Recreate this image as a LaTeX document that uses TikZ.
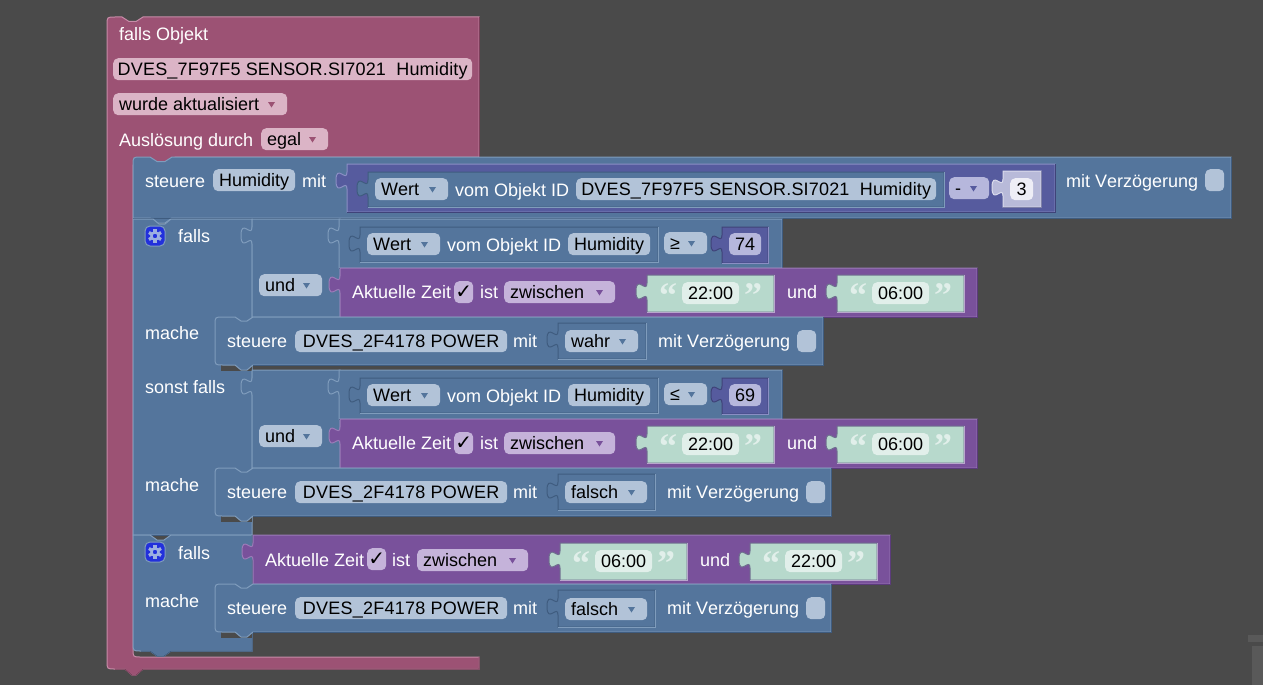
\documentclass[tikz,border=0pt]{standalone}
\usepackage{fontspec}
\setmainfont[Kerning=Off]{Liberation Sans}
\newfontfamily\symfont{DejaVu Sans}
\newfontfamily\quotefont{Liberation Serif}
\newcommand\wider[2]{{\addfontfeature{LetterSpace=#1}#2}}
\definecolor{bgc}{HTML}{4A4A4A}
\definecolor{scrollc}{HTML}{595959}
\definecolor{blockP}{HTML}{9C5274}\definecolor{blockPl}{HTML}{C78CA8}\definecolor{blockPd}{HTML}{7C3F5B}
\definecolor{blockB}{HTML}{54759C}\definecolor{blockBl}{HTML}{7F9CBC}\definecolor{blockBd}{HTML}{3F5C7F}
\definecolor{blockV}{HTML}{79519B}\definecolor{blockVl}{HTML}{9B7BB8}\definecolor{blockVd}{HTML}{5C3B7C}
\definecolor{blockI}{HTML}{565B9E}\definecolor{blockIl}{HTML}{8A8EC4}\definecolor{blockId}{HTML}{3F4379}
\definecolor{blockT}{HTML}{B7D9CC}\definecolor{blockTl}{HTML}{B8A6CC}\definecolor{blockTd}{HTML}{6F6F8F}
\definecolor{blockL}{HTML}{B8BAD9}\definecolor{blockLl}{HTML}{DADBEC}\definecolor{blockLd}{HTML}{7F81A8}
\definecolor{fP}{HTML}{DBB4C6}\definecolor{aP}{HTML}{9C5274}
\definecolor{fB}{HTML}{B2C3D8}\definecolor{aB}{HTML}{54759C}
\definecolor{fV}{HTML}{C5B3DA}\definecolor{aV}{HTML}{79519B}
\definecolor{fI}{HTML}{B6B7DC}\definecolor{aI}{HTML}{565B9E}
\definecolor{fW}{HTML}{EEEEF6}
\definecolor{fT}{HTML}{E1EFEA}
\definecolor{gearbg}{HTML}{2230DC}
\definecolor{gearfg}{HTML}{9DB0E0}
\tikzset{
  lbl/.style={anchor=base west,inner sep=0pt,text=white,font=\fontsize{18}{20}\selectfont},
  fieldbox/.style={anchor=north west,rounded corners=5pt,fill=#1,inner xsep=0pt,inner ysep=1.5pt,
    text height=16pt,text depth=3pt,text=black,font=\fontsize{18}{20}\selectfont,draw=none},
}
% field with centred text: name,x0,x1,y0,text,colour
\newcommand\fld[6]{\pgfmathsetmacro\fwid{(#3)-(#2)}\node[fieldbox=#6,minimum width=\fwid pt] (#1) at (#2,#4) {#5};}
% dropdown field
\newcommand\dd[6]{\pgfmathsetmacro\fwid{(#3)-(#2)}%
  \node[fieldbox=f#6,minimum width=\fwid pt] (#1) at (#2,#4) {\makebox[\fwid pt][l]{\hspace{6pt}\smash{#5}}};
  \fill[a#6] ({#3-19},{#4+9}) -- ({#3-12},{#4+9}) -- ({#3-15.5},{#4+14.5}) -- cycle;}
\newcommand\tl[4]{\node[lbl] (#1) at (#2,#3) {#4};}
% value block: x0,y0,x1,y1,colour key
\newcommand\vshape[4]{(#1,#2) -- (#3,#2) -- (#3,#4) -- (#1,#4) -- (#1,{#2+25})
  .. controls (#1,{#2+14}) and ({#1-11},{#2+34}) .. ({#1-11},{#2+16.5})
  .. controls ({#1-11},{#2-1}) and (#1,{#2+19.3}) .. (#1,{#2+8}) -- cycle}
\newcommand\vblock[5]{\draw[fill=block#5,draw=block#5l,line width=1pt] \vshape{#1}{#2}{#3}{#4};
  \draw[block#5d,line width=1pt] (#1,#4) -- (#3,#4) -- (#3,#2);}
\newcommand\iblock[5]{\draw[fill=block#5,draw=block#5d,line width=1pt] \vshape{#1}{#2}{#3}{#4};
  \draw[block#5l,line width=1pt] (#1,#4) -- (#3,#4) -- (#3,#2);}
% statement block with rounded top and bottom left
\newcommand\stmt[4]{%
  \fill[bgc] ({#1+6},#4) rectangle (252,{#4+5.5});
  \draw[fill=blockB,draw=blockBl,line width=1pt]
   (#1,{#2+8}) .. controls (#1,#2) and (#1,#2) .. ({#1+8},#2) -- ({#1+20},#2) -- ({#1+26},{#2+4}) -- ({#1+32},{#2+4}) -- ({#1+38},#2)
   -- (#3,#2) -- (#3,#4) -- ({#1+38},#4) -- ({#1+32},{#4+5}) -- ({#1+26},{#4+5}) -- ({#1+20},#4) -- ({#1+8},#4)
   .. controls (#1,#4) and (#1,#4) .. (#1,{#4-8}) -- cycle;
  \draw[blockBd,line width=1pt] (#3,#2) -- (#3,#4) -- ({#1+38},#4);}
% string block: name,x0,y0,time
\newcommand\strblock[4]{%
  \iblock{#2}{#3}{#2+127}{#3+37}{T}
  \node[lbl,text=fT,font=\fontsize{36}{36}\selectfont\quotefont\bfseries,anchor=base] (#1o) at ({#2+21},{#3+32}) {“};
  \node[lbl,text=fT,font=\fontsize{36}{36}\selectfont\quotefont\bfseries,anchor=base] (#1c) at ({#2+106},{#3+32}) {”};
  \fld{#1}{#2+35}{#2+92}{#3+7}{#4}{fT}}
% check field
\newcommand\chk[5]{\fld{#1}{#2}{#2+19}{#3}{#4}{#5}}
\newcommand\gear[2]{%
  \draw[fill=gearbg,draw=blockBl,line width=1pt,rounded corners=5pt] ({#1-10},{#2-10}) rectangle ({#1+10},{#2+10});
  \foreach \a in {0,60,...,300}{\fill[gearfg,rotate around={\a:(#1,#2)}] ({#1-1.6},{#2-7}) rectangle ({#1+1.6},{#2-4});}
  \draw[gearfg,line width=2.4pt] (#1,#2) circle (3.6pt);}
\newcommand\chkm{{\fontsize{20}{20}\selectfont\symfont ✓}}
\newcommand\sensorid{\wider{1}{DVES\_7F97F5 SENSOR.SI7021~~Humidity}}
\newcommand\powerid{\wider{1.3}{DVES\_2F4178 POWER}}
\begin{document}
\begin{tikzpicture}[x=1pt,y=-1pt]
\useasboundingbox (0,0) rectangle (1263,685);
\fill[bgc] (0,0) rectangle (1263,685);
\fill[scrollc] (1248,635) rectangle (1263,642);
\fill[scrollc] (1252,646) rectangle (1263,685);
% hat block
\draw[fill=blockP,draw=blockPl,line width=1pt]
  (107,25) .. controls (107,17) and (107,17) .. (115,17) -- (122,17) -- (129,21.5) -- (136,21.5) -- (143,17) -- (479,17) -- (479,157)
  -- (175,157) -- (175,165) -- (133,165) -- (133,649) .. controls (133,657) and (133,657) .. (141,657) -- (479,657) -- (479,669)
  -- (143,669) -- (136,675) -- (132,675) -- (125,669) -- (115,669) .. controls (107,669) and (107,669) .. (107,661) -- cycle;
\draw[blockPd,line width=1pt] (479,657) -- (479,669) -- (143,669) -- (136,675) -- (132,675) -- (125,669) -- (115,669);
\draw[blockPd,line width=1pt] (479,17) -- (479,157);
\tl{t1}{119}{41}{falls Objekt}
\fld{hatid}{113}{472}{58}{\sensorid}{fP}
\dd{hatev}{113}{287}{93}{wurde aktualisiert}{P}
\tl{t2}{119}{146}{Auslösung durch}
\dd{hategal}{261}{328}{128}{egal}{P}
% steuere top block
\draw[fill=blockB,draw=blockBl,line width=1pt]
  (133,165) .. controls (133,157) and (133,157) .. (141,157) -- (150,157) -- (157,161.5) -- (165,161.5) -- (172,157)
  -- (1231,157) -- (1231,218) -- (172,218) -- (165,223) -- (157,223) -- (150,218) -- (133,218) -- cycle;
\draw[blockBd,line width=1pt] (1231,157) -- (1231,218) -- (133,218);
\tl{t3}{145}{187}{steuere}
\fld{f1}{213}{295}{169}{Humidity}{fB}
\tl{t4}{302}{187}{mit}
\vblock{347}{164}{1055}{212}{I}
\iblock{368}{172}{944}{207}{B}
\dd{f2}{375}{448}{178}{Wert}{B}
\tl{t5}{455}{196}{vom Objekt ID}
\fld{f3}{576}{936}{178}{\sensorid}{fB}
\dd{f4}{949}{989}{177}{-}{I}
\vblock{1003}{171}{1041}{207}{L}
\fld{f5}{1010}{1033}{178}{3}{fW}
\tl{t6}{1066}{187}{mit Verzögerung}
\chk{c1}{1205}{169}{}{fB}
% falls 1
\draw[fill=blockB,draw=blockBl,line width=1pt]
  (133,219) -- (153,219) -- (159,224) -- (165,224) -- (171,219) -- (252,219) -- (252,535) -- (133,535) -- cycle;
\draw[blockBd,line width=1pt] (252,535) -- (133,535);
\gear{155}{236}
\tl{t7}{178}{242}{falls}
\vblock{252}{219}{340}{317}{B}
\dd{f6}{259}{322}{274}{und}{B}
\vblock{339}{219}{782}{268}{B}
\iblock{360}{227}{658}{262}{B}
\dd{f7}{367}{440}{233}{Wert}{B}
\tl{t8}{447}{251}{vom Objekt ID}
\fld{f8}{568}{650}{233}{Humidity}{fB}
\dd{f9}{664}{707}{232}{≥}{B}
\iblock{722}{227}{768}{263}{I}
\fld{f10}{729}{761}{233}{74}{fI}
\vblock{340}{268}{977}{317}{V}
\tl{t9}{352}{298}{Aktuelle Zeit}
\chk{c2}{454}{281}{\chkm}{fV}
\tl{t10}{480}{298}{ist}
\dd{f11}{504}{615}{281}{zwischen}{V}
\strblock{s1}{647}{275}{22:00}
\tl{t11}{787}{298}{und}
\strblock{s2}{837}{275}{06:00}
\tl{t12}{145}{339}{mache}
\stmt{215}{317}{823}{365}
\tl{t13}{227}{347}{steuere}
\fld{f12}{295}{507}{330}{\powerid}{fB}
\tl{t14}{513}{347}{mit}
\iblock{558}{323}{646}{359}{B}
\dd{f13}{565}{638}{330}{wahr}{B}
\tl{t15}{658}{347}{mit Verzögerung}
\chk{c3}{797}{330}{}{fB}
% sonst falls
\tl{t16}{145}{393}{sonst falls}
\vblock{252}{370}{340}{468}{B}
\dd{f14}{259}{322}{425}{und}{B}
\vblock{339}{370}{782}{419}{B}
\iblock{360}{378}{658}{413}{B}
\dd{f15}{367}{440}{384}{Wert}{B}
\tl{t17}{447}{402}{vom Objekt ID}
\fld{f16}{568}{650}{384}{Humidity}{fB}
\dd{f17}{664}{707}{383}{≤}{B}
\iblock{722}{378}{768}{414}{I}
\fld{f18}{729}{761}{384}{69}{fI}
\vblock{340}{419}{977}{468}{V}
\tl{t18}{352}{449}{Aktuelle Zeit}
\chk{c4}{454}{432}{\chkm}{fV}
\tl{t19}{480}{449}{ist}
\dd{f19}{504}{615}{432}{zwischen}{V}
\strblock{s3}{647}{426}{22:00}
\tl{t20}{787}{449}{und}
\strblock{s4}{837}{426}{06:00}
\tl{t21}{145}{491}{mache}
\stmt{215}{468}{831}{516}
\tl{t22}{227}{498}{steuere}
\fld{f20}{295}{507}{481}{\powerid}{fB}
\tl{t23}{513}{498}{mit}
\iblock{558}{474}{655}{510}{B}
\dd{f21}{565}{647}{481}{falsch}{B}
\tl{t24}{667}{498}{mit Verzögerung}
\chk{c5}{806}{481}{}{fB}
% falls 2
\draw[fill=blockB,draw=blockBl,line width=1pt]
  (133,535) -- (150,535) -- (157,540) -- (164,540) -- (171,535) -- (252,535) -- (252,651) -- (171,651) -- (164,656) -- (157,656) -- (150,651)
  -- (141,651) .. controls (133,651) and (133,651) .. (133,643) -- cycle;
\draw[blockBd,line width=1pt] (252,535) -- (252,651) -- (171,651) -- (164,656) -- (157,656) -- (150,651) -- (141,651);
\gear{155}{552}
\tl{t25}{178}{559}{falls}
\vblock{253}{535}{890}{584}{V}
\tl{t26}{265}{566}{Aktuelle Zeit}
\chk{c6}{367}{548}{\chkm}{fV}
\tl{t27}{392}{566}{ist}
\dd{f22}{417}{528}{549}{zwischen}{V}
\strblock{s5}{560}{543}{06:00}
\tl{t28}{700}{566}{und}
\strblock{s6}{750}{543}{22:00}
\tl{t29}{145}{607}{mache}
\stmt{215}{584}{831}{632}
\tl{t30}{227}{614}{steuere}
\fld{f23}{295}{507}{597}{\powerid}{fB}
\tl{t31}{513}{614}{mit}
\iblock{558}{590}{655}{627}{B}
\dd{f24}{565}{647}{598}{falsch}{B}
\tl{t32}{667}{614}{mit Verzögerung}
\chk{c7}{806}{597}{}{fB}
\end{tikzpicture}
\end{document}
